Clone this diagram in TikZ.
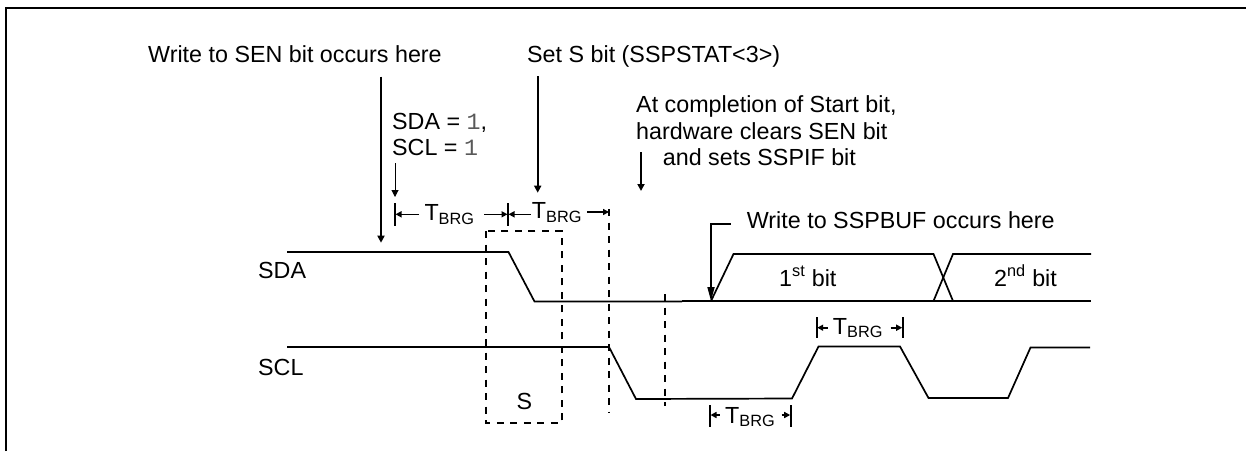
\documentclass[tikz,border=0pt]{standalone}
\usepackage{fontspec}
\setmainfont{Liberation Sans}
\newfontfamily\cour{Liberation Mono}
\usetikzlibrary{arrows.meta}
\tikzset{
 x=1pt,y=-1pt,
 lab/.style={anchor=base west,inner sep=0pt,font=\fontsize{23.3}{26}\selectfont},
 wave/.style={line width=1.7pt,line join=miter},
 dashline/.style={line width=1.6pt,dash pattern=on 7pt off 6.5pt},
 arr/.style={line width=1.7pt,-{Triangle[length=7pt,width=7pt]}},
 longarr/.style={line width=1.7pt,-{Triangle[length=14pt,width=7pt]}},
 sarr/.style={line width=1.6pt,-{Triangle[length=6pt,width=6pt]}},
 tickline/.style={line width=1.6pt}
}
\newcommand{\tb}{T\textsubscript{BRG}}
\begin{document}
\begin{tikzpicture}
\useasboundingbox (0,0) rectangle (1246,451);
% frame
\draw[line width=2pt] (6,451) -- (6,8) -- (1246,8);
% labels
\node[lab] (wsen) at (148,62.7) {Write to SEN bit occurs here};
\node[lab] (sets) at (527,62.7) {Set S bit (SSPSTAT<3>)};
\node[lab] (sda1) at (392,129.5) {SDA = {\cour\color{black!65}1},};
\node[lab] (scl1) at (392,155) {SCL = {\cour\color{black!65}1}};
\node[lab] (atc) at (636,112.7) {At completion of Start bit,};
\node[lab] (hw) at (636,139) {hardware clears SEN bit};
\node[lab] (ands) at (662.7,165.7) {and sets SSPIF bit};
\node[lab] (wbuf) at (746.7,228.3) {Write to SSPBUF occurs here};
\node[lab] (sda) at (258,278) {SDA};
\node[lab] (scl) at (258,375.7) {SCL};
\node[lab] (ess) at (516.5,409.3) {S};
\node[lab] (b1) at (779,286) {1\textsuperscript{st} bit};
\node[lab] (b2) at (994,286) {2\textsuperscript{nd} bit};
\node[lab] (t1) at (424.3,220.5) {\tb};
\node[lab] (t2) at (531.7,218.7) {\tb};
\node[lab] (t3) at (832.7,334) {\tb};
\node[lab] (t4) at (725,423) {\tb};
% waves
\draw[wave] (287,252) -- (508.5,252) -- (534.5,301.5) -- (682,301.5);
\draw[wave] (682,301) -- (711,301) -- (733.5,254) -- (933.5,254) -- (953,301) -- (711,301);
\draw[wave] (933.5,301) -- (953,254) -- (1091,254);
\draw[wave] (953,301) -- (1091,301);
\draw[wave] (287,347) -- (609,347) -- (636,399) -- (792,398.5) -- (818.5,346.5) -- (900,346.5) -- (928.5,398) -- (1008,398) -- (1030.5,347.5) -- (1090,347.5);
% dashed
\draw[dashline] (486,231) rectangle (562,422.7);
\draw[dashline] (609,209) -- (609,411.7);
\draw[dashline] (665,294) -- (665,405.7);
% pointers
\coordinate (a1s) at (381,76.7); \coordinate (a1e) at (381,242.7);
\coordinate (a2s) at (537.7,76); \coordinate (a2e) at (537.7,192.7);
\coordinate (a3s) at (641,152); \coordinate (a3e) at (641,191);
\coordinate (a4s) at (395,163); \coordinate (a4e) at (395,197);
\draw[arr] (a1s) -- (a1e);
\draw[arr] (a2s) -- (a2e);
\draw[arr] (a3s) -- (a3e);
\draw[arr,line width=1pt] (a4s) -- (a4e);
\coordinate (h1) at (730.7,224); \coordinate (h2) at (711,224); \coordinate (h3) at (711,301);
\draw[longarr] (h1) -- (h2) -- (h3);
% T_BRG
\draw[tickline] (395,203) -- (395,226);
\draw[tickline] (508,203) -- (508,226);
\draw[sarr] (419,214.3) -- (395.5,214.3);
\draw[sarr] (484,214.3) -- (507.5,214.3);
\draw[sarr] (530.7,214.3) -- (508.5,214.3);
\draw[sarr] (587,212) -- (609,212);
\draw[tickline] (816.7,317) -- (816.7,338);
\draw[tickline] (902.7,317) -- (902.7,338);
\draw[sarr] (827.7,327.7) -- (817.2,327.7);
\draw[sarr] (890.7,327.7) -- (902.2,327.7);
\draw[tickline] (710,405) -- (710,426.7);
\draw[tickline] (790.7,405) -- (790.7,426.7);
\draw[sarr] (719.5,415) -- (710.5,415);
\draw[sarr] (781.5,415) -- (790.2,415);
\end{tikzpicture}
\end{document}
